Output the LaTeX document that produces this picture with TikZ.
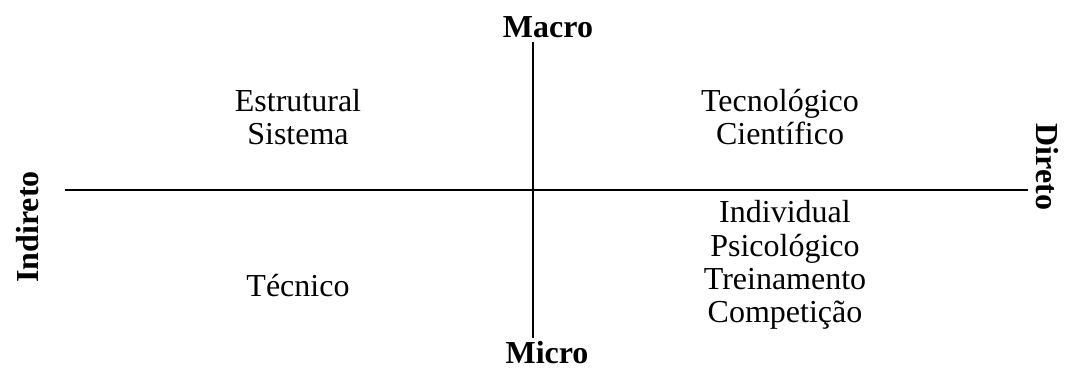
\documentclass[tikz,border=0pt]{standalone}
\usepackage{fontspec}
\setmainfont{Liberation Serif}
\begin{document}
\begin{tikzpicture}[x=1pt,y=-1pt,
  lbl/.style={font=\fontsize{32}{32}\selectfont, anchor=base, inner sep=0pt},
  axlbl/.style={font=\fontsize{32}{32}\selectfont\bfseries, inner sep=0pt},
  axis/.style={line width=1.6pt}]
\useasboundingbox (0,0) rectangle (1066,370);
\coordinate (top) at (533,42);
\coordinate (bot) at (533,338);
\coordinate (lft) at (65,190);
\coordinate (rgt) at (1028,190);
\draw[axis] (top) -- (bot);
\draw[axis] (lft) -- (rgt);
\node[axlbl, anchor=base] (macro) at (548,37) {Macro};
\node[axlbl, anchor=base] (micro) at (547,363) {Micro};
\node[axlbl, rotate=90] (ind) at (28,227) {Indireto};
\node[axlbl, rotate=-90] (dir) at (1047,167) {Direto};
\node[lbl] (estr) at (298,111) {Estrutural};
\node[lbl] (sist) at (298,144) {Sistema};
\node[lbl] (tecn) at (780,111) {Tecnológico};
\node[lbl] (cien) at (780,144) {Científico};
\node[lbl] (indiv) at (785,222) {Individual};
\node[lbl] (psic) at (785,256) {Psicológico};
\node[lbl] (trei) at (785,289) {Treinamento};
\node[lbl] (comp) at (785,322) {Competição};
\node[lbl] (tecnico) at (298,296) {Técnico};
\end{tikzpicture}
\end{document}
